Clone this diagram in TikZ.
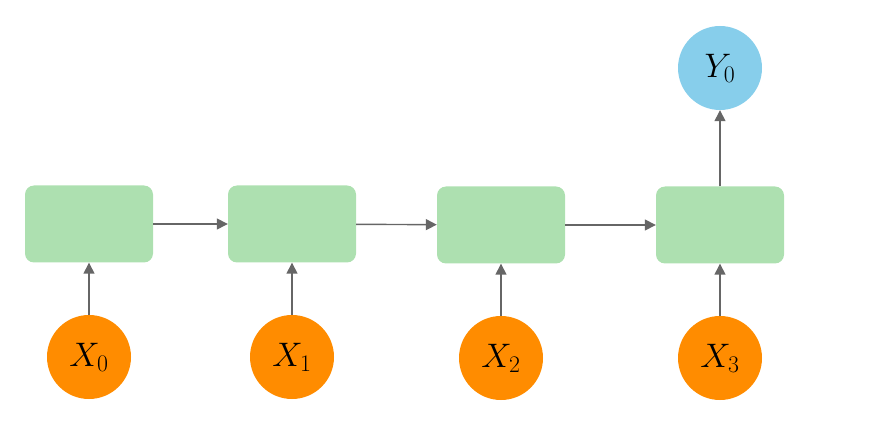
\RequirePackage{fix-cm}
\documentclass[tikz,border=0pt]{standalone}
\usetikzlibrary{positioning,arrows.meta}

\definecolor{cellgreen}{HTML}{ADE0B0}
\definecolor{inorange}{HTML}{FF8C00}
\definecolor{outblue}{HTML}{87CEEB}
\definecolor{arrowgray}{HTML}{666666}

\tikzset{
    cell/.style={fill=cellgreen, rounded corners=9pt, minimum width=128pt, minimum height=77pt},
    input/.style={circle, fill=inorange, minimum size=84pt, inner sep=0pt, font=\fontsize{34}{40}\selectfont},
    output/.style={circle, fill=outblue, minimum size=84pt, inner sep=0pt, font=\fontsize{34}{40}\selectfont},
    flow/.style={draw=arrowgray, line width=1.4pt, -{Triangle[width=11pt,length=11pt]}, arrowgray}
}

\begin{document}
\begin{tikzpicture}[x=1pt,y=-1pt,node distance=133pt,on grid]
    \useasboundingbox (0,0) rectangle (886,446);
    \node[cell] (C0) at (89,224)  {};
    \node[cell] (C1) at (292,224) {};
    \node[cell] (C2) at (501,225) {};
    \node[cell] (C3) at (720,225) {};
    \node[input] (X0) [below=of C0] {$X_0$};
    \node[input] (X1) [below=of C1] {$X_1$};
    \node[input] (X2) [below=of C2] {$X_2$};
    \node[input] (X3) [below=of C3] {$X_3$};
    \node[output] (Y0) [above=157pt of C3] {$Y_0$};
    \foreach \i in {0,1,2,3}
        \draw[flow] (X\i) -- (C\i);
    \draw[flow] (C0) -- (C1);
    \draw[flow] (C1) -- (C2);
    \draw[flow] (C2) -- (C3);
    \draw[flow] (C3) -- (Y0);
\end{tikzpicture}
\end{document}
